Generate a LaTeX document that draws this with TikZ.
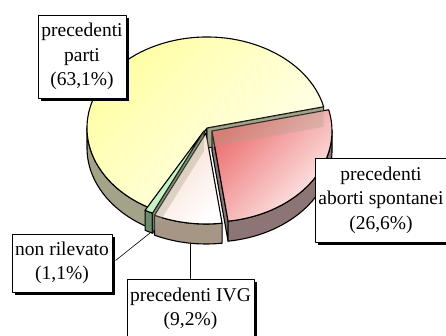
\documentclass[tikz,border=0pt]{standalone}
\usepackage{fontspec}
\setmainfont{Liberation Serif}
\usepackage{xcolor}
\usepackage{tikz}
\usetikzlibrary{calc,shadows}

\definecolor{partitop}{HTML}{FFFFA0}
\definecolor{partiend}{HTML}{FFFFF2}
\definecolor{partiside}{HTML}{A3A38A}
\definecolor{abortitop}{HTML}{EC7070}
\definecolor{abortiend}{HTML}{FFF3F3}
\definecolor{abortiside}{HTML}{8E7575}
\definecolor{ivgtop}{HTML}{F7DACB}
\definecolor{ivgside}{HTML}{A59686}
\definecolor{nrtop}{HTML}{C6F2C6}
\definecolor{nrside}{HTML}{6C8C6C}

\tikzset{
  lblbox/.style={draw=black, fill=white, line width=0.8pt, align=center, inner sep=0pt,
    font=\fontsize{19.5}{24.5}\selectfont,
    general shadow={fill=black, shadow xshift=3pt, shadow yshift=-3pt}},
  rim/.style={draw=black, line width=1.1pt},
  leader/.style={draw=black, line width=0.6pt}
}

\begin{document}
\begin{tikzpicture}[x=1pt,y=1pt,line cap=round,line join=round]
\useasboundingbox (0,0) rectangle (446,336);
\clip (0,0) rectangle (446,336);
\fill[white] (0,0) rectangle (446,336);

% apex of every slice (exploded a little)
\coordinate (Py) at (207,208);
\coordinate (Pg) at (204,205);
\coordinate (Pi) at (206,203);
\coordinate (Pr) at (212,205);

% parti slice
\filldraw[rim, fill=partiside] (Py) ++(180:120pt and 91pt) arc[start angle=180, end angle=240.6, x radius=120pt, y radius=91pt]
  -- ++(0,-20) arc[start angle=240.6, end angle=180, x radius=120pt, y radius=91pt] -- cycle;
\filldraw[rim, fill=partiside] (Py) -- ++(240.6:120pt and 91pt) -- ++(0,-20) -- ($(Py)+(0,-20)$) -- cycle;
\filldraw[rim, fill=partiside] (Py) -- ++(13.5:120pt and 91pt) -- ++(0,-20) -- ($(Py)+(0,-20)$) -- cycle;
\shadedraw[rim, top color=partitop, bottom color=partiend, shading angle=45] (Py) -- ++(13.5:120pt and 91pt)
  arc[start angle=13.5, end angle=240.6, x radius=120pt, y radius=91pt] -- cycle;

% non rilevato slice
\filldraw[rim, fill=nrside] (Pg) ++(240.6:120pt and 91pt) arc[start angle=240.6, end angle=244.6, x radius=120pt, y radius=91pt]
  -- ++(0,-20) arc[start angle=244.6, end angle=240.6, x radius=120pt, y radius=91pt] -- cycle;
\filldraw[rim, fill=nrside] (Pg) -- ++(244.6:120pt and 91pt) -- ++(0,-20) -- ($(Pg)+(0,-20)$) -- cycle;
\filldraw[rim, fill=nrtop] (Pg) -- ++(240.6:120pt and 91pt)
  arc[start angle=240.6, end angle=244.6, x radius=120pt, y radius=91pt] -- cycle;

% IVG slice
\filldraw[rim, fill=ivgside] (Pi) ++(244.6:120pt and 91pt) arc[start angle=244.6, end angle=277.7, x radius=120pt, y radius=91pt]
  -- ++(0,-20) arc[start angle=277.7, end angle=244.6, x radius=120pt, y radius=91pt] -- cycle;
\shadedraw[rim, top color=ivgtop, bottom color=white, shading angle=45] (Pi) -- ++(244.6:120pt and 91pt)
  arc[start angle=244.6, end angle=277.7, x radius=120pt, y radius=91pt] -- cycle;
\fill[partiside, opacity=0.35] (Pg) -- ++(244.6:120pt and 91pt) -- ++(0,-20) -- ($(Pg)+(0,-20)$) -- cycle;

% aborti spontanei slice
\filldraw[rim, fill=abortiside] (Pr) -- ++(277.7:120pt and 91pt) -- ++(0,-20) -- ($(Pr)+(0,-20)$) -- cycle;
\filldraw[rim, fill=abortiside] (Pr) ++(277.7:120pt and 91pt) arc[start angle=277.7, end angle=360, x radius=120pt, y radius=91pt]
  -- ++(0,-20) arc[start angle=360, end angle=277.7, x radius=120pt, y radius=91pt] -- cycle;
\shadedraw[rim, top color=abortitop, bottom color=abortiend, shading angle=45] (Pr) -- ++(277.7:120pt and 91pt)
  arc[start angle=277.7, end angle=373.5, x radius=120pt, y radius=91pt] -- cycle;
\fill[partiside, opacity=0.3] (Py) -- ++(13.5:120pt and 91pt) -- ++(0,-20) -- ($(Py)+(0,-20)$) -- cycle;

% labels
\node[lblbox, minimum width=88pt, minimum height=83pt] (lblparti) at (82,279.5) {precedenti\\parti\\(63,1\%)};
\node[lblbox, minimum width=132pt, minimum height=84pt] (lblaborti) at (381,136) {precedenti\\aborti spontanei\\(26,6\%)};
\node[lblbox, minimum width=100pt, minimum height=58pt] (lblnr) at (62,73) {non rilevato\\(1,1\%)};
\node[lblbox, minimum width=127pt, minimum height=60pt] (lblivg) at (190.5,27) {precedenti IVG\\(9,2\%)};

% leader lines
\coordinate (nrtip) at (150,103);
\coordinate (ivgtip) at (190.5,92);
\draw[leader, shorten <=4pt] (lblnr.east) -- (nrtip);
\draw[leader] (ivgtip) -- (lblivg.north);
\end{tikzpicture}
\end{document}
